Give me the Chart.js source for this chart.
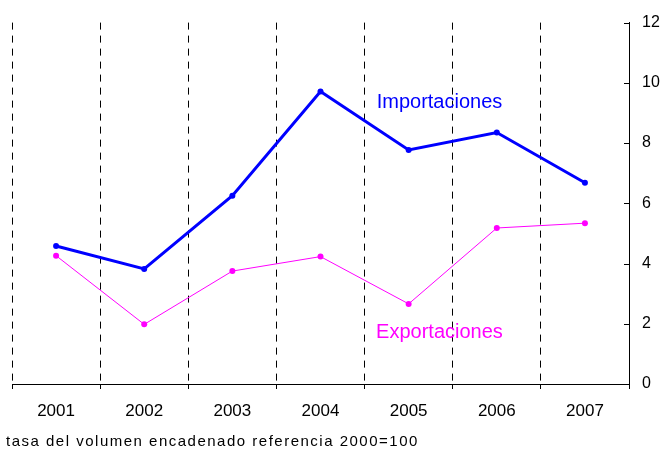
<!DOCTYPE html>
<html>
<head>
<meta charset="utf-8">
<script src="https://cdn.jsdelivr.net/npm/chart.js@4/dist/chart.umd.min.js"></script>
<style>
  html, body { margin: 0; padding: 0; background: #fff; }
  #wrap { width: 661px; height: 450px; }
</style>
</head>
<body>
<div id="wrap"><canvas id="chart" width="661" height="450"></canvas></div>
<script>
// tasa de variación del volumen, % anual
const years = ['2001', '2002', '2003', '2004', '2005', '2006', '2007'];
const importaciones = [4.58, 3.82, 6.25, 9.71, 7.77, 8.35, 6.68];
const exportaciones = [4.26, 1.98, 3.75, 4.23, 2.66, 5.18, 5.34];
const yMin = 0, yMax = 12, yStep = 2;
const nota = 'tasa del volumen encadenado referencia 2000=100';

const FONT = '"Liberation Sans", Arial, sans-serif';

// series names, small inward ticks on the right axis and the footnote
const extras = {
    id: 'extras',
    afterDraw(chart) {
        const { ctx, scales: { x, y } } = chart;
        ctx.save();

        ctx.strokeStyle = '#000';
        ctx.lineWidth = 1;
        y.ticks.forEach(t => {
            const py = Math.round(y.getPixelForValue(t.value)) + 0.5;
            ctx.beginPath();
            ctx.moveTo(y.left - 5, py);
            ctx.lineTo(y.left, py);
            ctx.stroke();
        });

        ctx.font = '20px ' + FONT;
        ctx.textAlign = 'center';
        ctx.textBaseline = 'middle';
        ctx.fillStyle = '#0000FF';
        ctx.fillText('Importaciones', x.getPixelForValue(4.35), y.getPixelForValue(9.35));
        ctx.fillStyle = '#FF00FF';
        ctx.fillText('Exportaciones', x.getPixelForValue(4.35), y.getPixelForValue(1.72));

        ctx.font = '15px ' + FONT;
        ctx.letterSpacing = '1.5px';
        ctx.textAlign = 'left';
        ctx.textBaseline = 'alphabetic';
        ctx.fillStyle = '#000';
        ctx.fillText(nota, 6, chart.height - 4);
        ctx.restore();
    }
};

new Chart(document.getElementById('chart').getContext('2d'), {
    type: 'line',
    data: {
        labels: years,
        datasets: [
            {
                label: 'Importaciones',
                data: importaciones,
                borderColor: '#0000FF',
                backgroundColor: '#0000FF',
                borderWidth: 3,
                pointRadius: 3,
                pointBorderWidth: 0,
                tension: 0
            },
            {
                label: 'Exportaciones',
                data: exportaciones,
                borderColor: '#FF00FF',
                backgroundColor: '#FF00FF',
                borderWidth: 1,
                pointRadius: 3,
                pointBorderWidth: 0,
                tension: 0
            }
        ]
    },
    options: {
        responsive: false,
        animation: false,
        layout: { padding: { left: 12, top: 19, right: 0, bottom: 0 } },
        plugins: {
            legend: { display: false },
            tooltip: { enabled: false }
        },
        scales: {
            x: {
                offset: true,
                grid: {
                    offset: true,
                    color: '#000',
                    lineWidth: 1,
                    tickLength: 5,
                    tickBorderDash: [1, 0]
                },
                border: { color: '#000', width: 1, dash: [7, 6] },
                ticks: {
                    color: '#000',
                    font: { family: FONT, size: 17 },
                    padding: 12,
                    maxRotation: 0
                },
                afterFit(scale) { scale.height = 66; }
            },
            y: {
                position: 'right',
                min: yMin,
                max: yMax,
                grid: { drawOnChartArea: false, drawTicks: false },
                border: { color: '#000', width: 1 },
                ticks: {
                    stepSize: yStep,
                    color: '#000',
                    font: { family: FONT, size: 16 },
                    padding: 13
                },
                afterFit(scale) { scale.width = 32; }
            }
        }
    },
    plugins: [extras]
});
</script>
</body>
</html>
